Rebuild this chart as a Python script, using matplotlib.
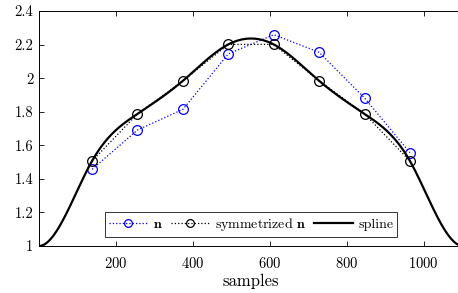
import numpy as np
import matplotlib
matplotlib.use("Agg")
import matplotlib.pyplot as plt

plt.rcParams['font.family'] = ['cmr10', 'DejaVu Serif']
plt.rcParams['mathtext.fontset'] = 'cm'
plt.rcParams['axes.formatter.use_mathtext'] = True

# data
sample_pos = [138, 256, 374, 492, 610, 728, 846, 964]
n_vals = [1.457, 1.691, 1.814, 2.144, 2.259, 2.154, 1.882, 1.556]
sym_vals = [1.507, 1.787, 1.984, 2.201, 2.201, 1.984, 1.787, 1.507]
spline_knots_x = [0, 138, 256, 374, 492, 610, 728, 846, 964, 1102]
spline_knots_y = [1.0, 1.507, 1.787, 1.984, 2.201, 2.201, 1.984, 1.787, 1.507, 1.0]
xticks = [200, 400, 600, 800, 1000]
yticks = [1, 1.2, 1.4, 1.6, 1.8, 2, 2.2, 2.4]
ytick_labels = ['1', '1.2', '1.4', '1.6', '1.8', '2', '2.2', '2.4']


def clamped_spline(xk, yk, xs):
    xk = np.asarray(xk, float); yk = np.asarray(yk, float)
    n = len(xk)
    h = np.diff(xk)
    A = np.zeros((n, n)); b = np.zeros(n)
    A[0, 0] = 2 * h[0]; A[0, 1] = h[0]
    b[0] = 3 * ((yk[1] - yk[0]) / h[0])
    A[-1, -2] = h[-1]; A[-1, -1] = 2 * h[-1]
    b[-1] = 3 * (-(yk[-1] - yk[-2]) / h[-1])
    for i in range(1, n - 1):
        A[i, i - 1] = h[i - 1]
        A[i, i] = 2 * (h[i - 1] + h[i])
        A[i, i + 1] = h[i]
        b[i] = 3 * ((yk[i + 1] - yk[i]) / h[i] - (yk[i] - yk[i - 1]) / h[i - 1])
    c = np.linalg.solve(A, b)
    out = np.empty_like(xs)
    for j, x in enumerate(xs):
        i = min(max(np.searchsorted(xk, x) - 1, 0), n - 2)
        dx = x - xk[i]
        bi = (yk[i + 1] - yk[i]) / h[i] - h[i] * (2 * c[i] + c[i + 1]) / 3
        di = (c[i + 1] - c[i]) / (3 * h[i])
        out[j] = yk[i] + bi * dx + c[i] * dx ** 2 + di * dx ** 3
    return out


xs = np.linspace(spline_knots_x[0], spline_knots_x[-1], 600)
ys = clamped_spline(spline_knots_x, spline_knots_y, xs)

fig = plt.figure(figsize=(4.58, 2.93), dpi=100)
ax = fig.add_axes([39 / 458, 1 - 246 / 293, (463 - 39) / 458, (246 - 11) / 293])

ax.plot(sample_pos, n_vals, ':', color=(0, 0, 1), lw=0.9, marker='o',
        mfc='none', mec=(0, 0, 1), ms=7, mew=0.9, label=r'$\mathbf{n}$')
ax.plot(sample_pos, sym_vals, ':', color='black', lw=0.9, marker='o',
        mfc='none', mec='black', ms=7, mew=0.9, label=r'symmetrized $\mathbf{n}$')
ax.plot(xs, ys, '-', color='black', lw=1.6, label='spline')

ax.set_xlim(0, 1102)
ax.set_ylim(1, 2.4)
ax.set_xticks(xticks)
ax.set_yticks(yticks)
ax.set_yticklabels(ytick_labels)
ax.tick_params(direction='in', top=True, right=True, labelsize=10.5, length=3.5, width=0.6)
ax.tick_params(axis='x', pad=7)
ax.tick_params(axis='y', pad=4)
for s in ax.spines.values():
    s.set_linewidth(0.7)
ax.set_xlabel('samples', fontsize=12, labelpad=2)

leg = ax.legend(loc='lower center', ncol=3, fontsize=10, frameon=True, fancybox=False,
                edgecolor='black', handlelength=2.8, columnspacing=0.55, handletextpad=0.4,
                borderpad=0.3, borderaxespad=0.0, markerscale=0.8,
                bbox_to_anchor=(0.5, (246 - 237) / 235))
leg.get_frame().set_linewidth(0.7)

fig.savefig('out.png', dpi=100)
